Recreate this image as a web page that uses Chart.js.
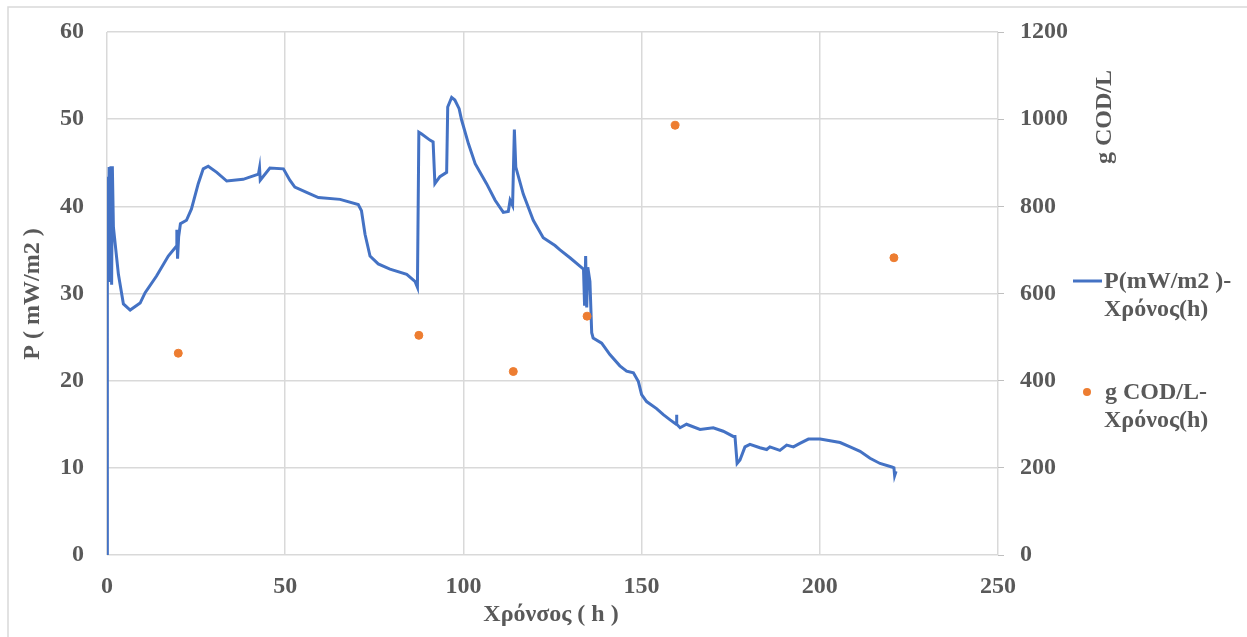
<!DOCTYPE html>
<html>
<head>
<meta charset="utf-8">
<script src="https://cdn.jsdelivr.net/npm/chart.js@4/dist/chart.umd.min.js"></script>
<style>
  html, body { margin: 0; padding: 0; background: #fff; }
  #wrap { width: 1247px; height: 637px; position: relative; }
</style>
</head>
<body>
<div id="wrap"><canvas id="grafico"></canvas></div>
<script>
// power density over time (left axis)
const tempoP = [0, 0.1, 0.3, 0.6, 0.9, 1.1, 1.3, 1.5, 1.8, 3.2, 4.6, 6.5, 9.3, 10.7, 13.9, 17.2, 19.4, 19.6, 19.8, 20.1, 20.6,
  22.3, 23.7, 25.6, 27.0, 28.4, 30.8, 33.6, 38.2, 42.5, 42.8, 43.0, 45.7, 49.5, 51.3, 52.7, 56.0, 59.3, 65.4, 70.5,
  71.4, 72.4, 73.8, 76.1, 79.4, 84.1, 86.4, 87.1, 87.5, 88.3, 90.6, 91.5, 92.0, 93.4, 95.3, 95.6, 96.7, 97.6, 98.8,
  99.5, 101.4, 103.3, 106.5, 108.9, 111.2, 112.6, 113.1, 113.8, 114.3, 114.7, 116.8, 119.6, 122.4, 125.7, 127.1,
  129.9, 133.7, 134.0, 134.3, 134.6, 134.9, 135.5, 136.0, 136.4, 138.8, 141.1, 143.9, 145.8, 147.7, 149.1, 150.0,
  151.4, 154.2, 156.1, 158.0, 159.7, 159.8, 159.9, 160.8, 162.6, 166.4, 170.1, 172.9, 175.7, 176.2, 176.8, 177.6,
  179.0, 180.4, 183.2, 185.1, 186.0, 188.8, 190.7, 192.6, 194.4, 196.8, 200.1, 202.9, 205.7, 208.5, 211.3, 214.1,
  216.9, 220.2, 220.8, 221.0, 221.4];
const potencia = [0, 43.4, 32.5, 44.5, 31.5, 44.6, 31.0, 44.6, 37.6, 32.2, 28.8, 28.1, 28.9, 30.1, 32.0, 34.3, 35.4, 37.3, 34.0, 36.5, 38.0,
  38.4, 39.7, 42.6, 44.3, 44.6, 43.9, 42.9, 43.1, 43.7, 44.4, 43.0, 44.4, 44.3, 43.0, 42.2, 41.6, 41.0, 40.8, 40.2,
  39.5, 36.8, 34.3, 33.4, 32.8, 32.2, 31.4, 30.7, 48.5, 48.3, 47.6, 47.4, 42.6, 43.4, 43.9, 51.4, 52.5, 52.2, 51.2,
  49.9, 47.2, 44.9, 42.6, 40.7, 39.3, 39.4, 40.7, 40.1, 48.8, 44.5, 41.4, 38.4, 36.4, 35.5, 35.0,
  34.1, 32.8, 28.6, 34.3, 28.4, 33.0, 31.4, 25.5, 24.9, 24.3, 23.0, 21.7, 21.1, 20.9, 19.9, 18.4,
  17.6, 16.8, 16.1, 15.5, 15.0, 16.1, 15.0, 14.6, 15.0, 14.4, 14.6, 14.2, 13.6, 13.6, 10.5, 10.9,
  12.4, 12.7, 12.3, 12.1, 12.4, 12.0, 12.6, 12.4, 12.8, 13.3, 13.3, 13.1, 12.9, 12.4, 11.9, 11.1,
  10.5, 10.1, 10.0, 9.1, 9.6];

// COD samples (right axis)
const tempoCOD = [20, 87.5, 114, 134.7, 159.4, 220.8];
const cod = [463, 504, 421, 548, 986, 682];

const xTicks = [0, 50, 100, 150, 200, 250];

const azul = "#4472C4";
const laranja = "#ED7D31";
const cinza = "#595959";
const grade = "#d9d9d9";
const fonte = "'Liberation Serif', 'Times New Roman', serif";
const fonteTicks = { family: fonte, size: 24, weight: "bold" };

const pontosP = tempoP.map((t, i) => ({ x: t, y: potencia[i] }));
const pontosCOD = tempoCOD.map((t, i) => ({ x: t, y: cod[i] }));

// frame, axis titles and the side legend
const extras = {
  id: "extras",
  beforeDraw(chart) {
    const c = chart.ctx;
    c.save();
    c.strokeStyle = grade;
    c.lineWidth = 1.5;
    c.beginPath();
    c.moveTo(8, 637);
    c.lineTo(8, 7);
    c.lineTo(1247, 7);
    c.stroke();
    c.restore();
  },
  afterDraw(chart) {
    const c = chart.ctx;
    c.save();
    c.fillStyle = cinza;
    c.font = "bold 24px " + fonte;
    c.textAlign = "center";
    c.textBaseline = "middle";
    c.fillText("Χρόνσος ( h )", 551, 615);

    c.save();
    c.translate(33, 294);
    c.rotate(-Math.PI / 2);
    c.fillText("P ( mW/m2 )", 0, 0);
    c.restore();

    c.save();
    c.translate(1105, 117);
    c.rotate(-Math.PI / 2);
    c.fillText("g COD/L", 0, 0);
    c.restore();

    // legend
    c.strokeStyle = azul;
    c.lineWidth = 3;
    c.beginPath();
    c.moveTo(1073, 281);
    c.lineTo(1102, 281);
    c.stroke();
    c.fillStyle = laranja;
    c.beginPath();
    c.arc(1087, 392, 4, 0, Math.PI * 2);
    c.fill();

    c.fillStyle = cinza;
    c.textAlign = "left";
    c.textBaseline = "alphabetic";
    c.fillText("P(mW/m2 )-", 1104, 288);
    c.fillText("Χρόνος(h)", 1104, 316);
    c.fillText("g COD/L-", 1105, 399);
    c.fillText("Χρόνος(h)", 1104, 427);
    c.restore();
  }
};

const ctx = document.getElementById("grafico").getContext("2d");
new Chart(ctx, {
  type: "scatter",
  data: {
    datasets: [
      {
        label: "P(mW/m2 )-Χρόνος(h)",
        data: pontosP,
        showLine: true,
        borderColor: azul,
        borderWidth: 3,
        pointRadius: 0,
        tension: 0,
        yAxisID: "y",
        order: 1
      },
      {
        label: "g COD/L-Χρόνος(h)",
        data: pontosCOD,
        backgroundColor: laranja,
        borderColor: laranja,
        pointRadius: 4,
        yAxisID: "y1",
        order: 0
      }
    ]
  },
  options: {
    responsive: true,
    maintainAspectRatio: false,
    devicePixelRatio: 1,
    animation: false,
    layout: { padding: { top: 32, left: 0, right: 0, bottom: 0 } },
    plugins: {
      legend: { display: false },
      tooltip: { enabled: false }
    },
    scales: {
      x: {
        type: "linear",
        min: 0,
        max: 250,
        afterBuildTicks: s => { s.ticks = xTicks.map(v => ({ value: v })); },
        afterFit: s => { s.height = 82; },
        grid: { color: grade, lineWidth: 1.5, drawTicks: false },
        border: { display: false },
        ticks: { font: fonteTicks, color: cinza, padding: 17, maxRotation: 0 }
      },
      y: {
        position: "left",
        min: 0,
        max: 60,
        afterFit: s => { s.width = 107; },
        // invisible tick marks keep the labels off the plot without padding
        grid: { color: grade, lineWidth: 1.5, drawTicks: true, tickLength: 23, tickColor: "rgba(0,0,0,0)" },
        border: { display: false },
        ticks: { stepSize: 10, font: fonteTicks, color: cinza, padding: 0 }
      },
      y1: {
        position: "right",
        min: 0,
        max: 1200,
        afterFit: s => { s.width = 249; },
        grid: { drawOnChartArea: false, color: "#bfbfbf", tickLength: 6 },
        border: { display: false },
        ticks: { stepSize: 200, font: fonteTicks, color: cinza, padding: 16, callback: v => String(v) }
      }
    }
  },
  plugins: [extras]
});
</script>
</body>
</html>
